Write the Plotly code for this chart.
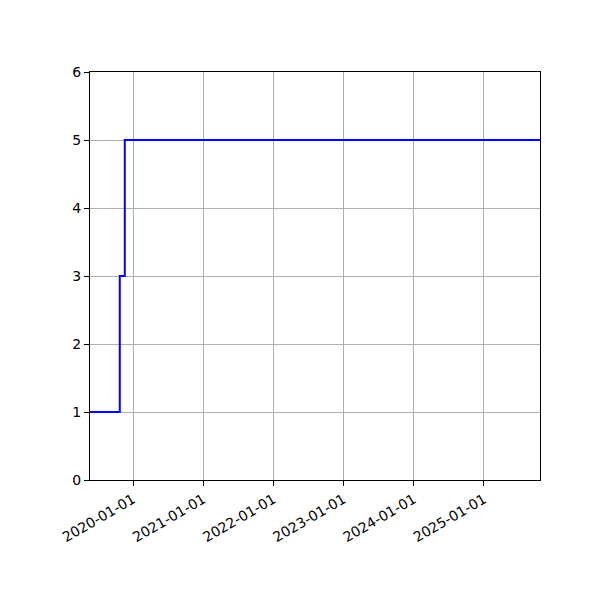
import plotly.graph_objects as go

# step data (value held until next date)
dates = ["2019-05-22", "2019-10-24", "2019-11-19", "2025-10-20"]
values = [1, 3, 5, 5]

tick_dates = ["2020-01-01", "2021-01-01", "2022-01-01", "2023-01-01", "2024-01-01", "2025-01-01"]

fig = go.Figure()
fig.add_trace(go.Scatter(
    x=dates, y=values, mode="lines", line_shape="hv",
    line=dict(color="blue", width=2), showlegend=False
))

axis_common = dict(
    showline=True, linecolor="black", linewidth=1, mirror=True,
    showgrid=True, gridcolor="#b0b0b0", gridwidth=1,
    ticks="outside", ticklen=5, tickcolor="black",
    zeroline=False, tickfont=dict(size=14, color="black"),
)

fig.update_xaxes(
    range=["2019-05-22", "2025-10-20"],
    tickvals=tick_dates, ticktext=tick_dates, tickangle=-30,
    **axis_common
)
fig.update_yaxes(range=[0, 6], tickvals=[0, 1, 2, 3, 4, 5, 6], **axis_common)

# page body adds ~8px offset, so margins are shifted to compensate
fig.update_layout(
    width=600, height=600,
    margin=dict(l=82, r=68, t=64, b=128),
    plot_bgcolor="white", paper_bgcolor="white",
    font=dict(family="DejaVu Sans", size=14, color="black"),
)

fig.write_html("out.html")
